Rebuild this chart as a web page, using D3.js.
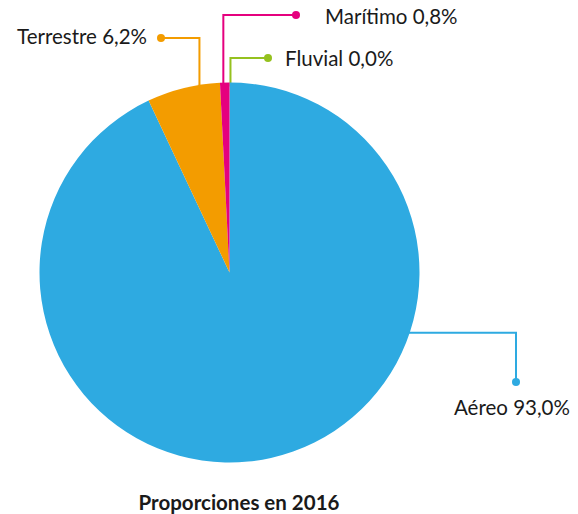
<!DOCTYPE html>
<html lang="es">
<head>
  <meta charset="UTF-8">
  <title>Proporciones en 2016</title>
  <script src="https://d3js.org/d3.v7.min.js"></script>
  <style>
    body { margin: 0; background: #fff; }
    .label { font: 20.5px Lato, sans-serif; fill: #1a1a1a; }
    .title { font: bold 20.5px Lato, sans-serif; fill: #1a1a1a; }
    .leader { fill: none; stroke-width: 2px; }
  </style>
</head>
<body>
  <svg width="578" height="514"></svg>
  <script>
    // data
    const categories = ["Aéreo", "Terrestre", "Marítimo", "Fluvial"];
    const shares = [93.0, 6.2, 0.8, 0.0];
    const colors = ["#2eaae1", "#f39c00", "#e5007e", "#95c11f"];
    const title = "Proporciones en 2016";

    const cx = 229.5, cy = 272.5, radius = 190;
    const svg = d3.select("svg");

    // callout placement (angle on the rim in degrees, clockwise from 12 o'clock)
    const callouts = {
      "Aéreo":     { angle: 108.9, route: "across", x: 516, y: 382, textX: 454, textY: 408, anchor: "start" },
      "Terrestre": { angle: 350.7, route: "up", x: 161, y: 38, textX: 147, textY: 37, anchor: "end" },
      "Marítimo":  { angle: 358.1, route: "up", x: 296, y: 15, textX: 325, textY: 17, anchor: "start" },
      "Fluvial":   { angle: 0.3,   route: "up", x: 268, y: 58, textX: 285, textY: 59, anchor: "start" }
    };

    const pie = d3.pie().sort(null).value(d => d.value);
    const arcs = pie(categories.map((c, i) => ({ name: c, value: shares[i], color: colors[i] })));
    const arc = d3.arc().innerRadius(0).outerRadius(radius);

    const fmt = v => v.toFixed(1).replace(".", ",") + "%";

    // leader lines go under the pie
    const lines = svg.append("g");
    arcs.forEach(a => {
      const c = callouts[a.data.name];
      const t = c.angle * Math.PI / 180;
      const r0 = radius - 4;
      const ax = cx + r0 * Math.sin(t), ay = cy - r0 * Math.cos(t);
      const pts = c.route === "up"
        ? [[ax, ay], [ax, c.y], [c.x, c.y]]
        : [[ax, ay], [c.x, ay], [c.x, c.y]];
      lines.append("path")
        .attr("class", "leader")
        .attr("stroke", a.data.color)
        .attr("d", d3.line()(pts));
      lines.append("circle")
        .attr("cx", c.x).attr("cy", c.y).attr("r", 4)
        .attr("fill", a.data.color);
      svg.append("text")
        .attr("class", "label")
        .attr("x", c.textX).attr("y", c.textY)
        .attr("dy", "0.35em")
        .attr("text-anchor", c.anchor)
        .text(a.data.name + " " + fmt(a.data.value));
    });

    svg.append("g")
      .attr("transform", `translate(${cx},${cy})`)
      .selectAll("path")
      .data(arcs)
      .join("path")
      .attr("d", arc)
      .attr("fill", d => d.data.color);

    svg.append("text")
      .attr("class", "title")
      .attr("x", 239).attr("y", 503)
      .attr("dy", "0.35em")
      .attr("text-anchor", "middle")
      .text(title);
  </script>
</body>
</html>
